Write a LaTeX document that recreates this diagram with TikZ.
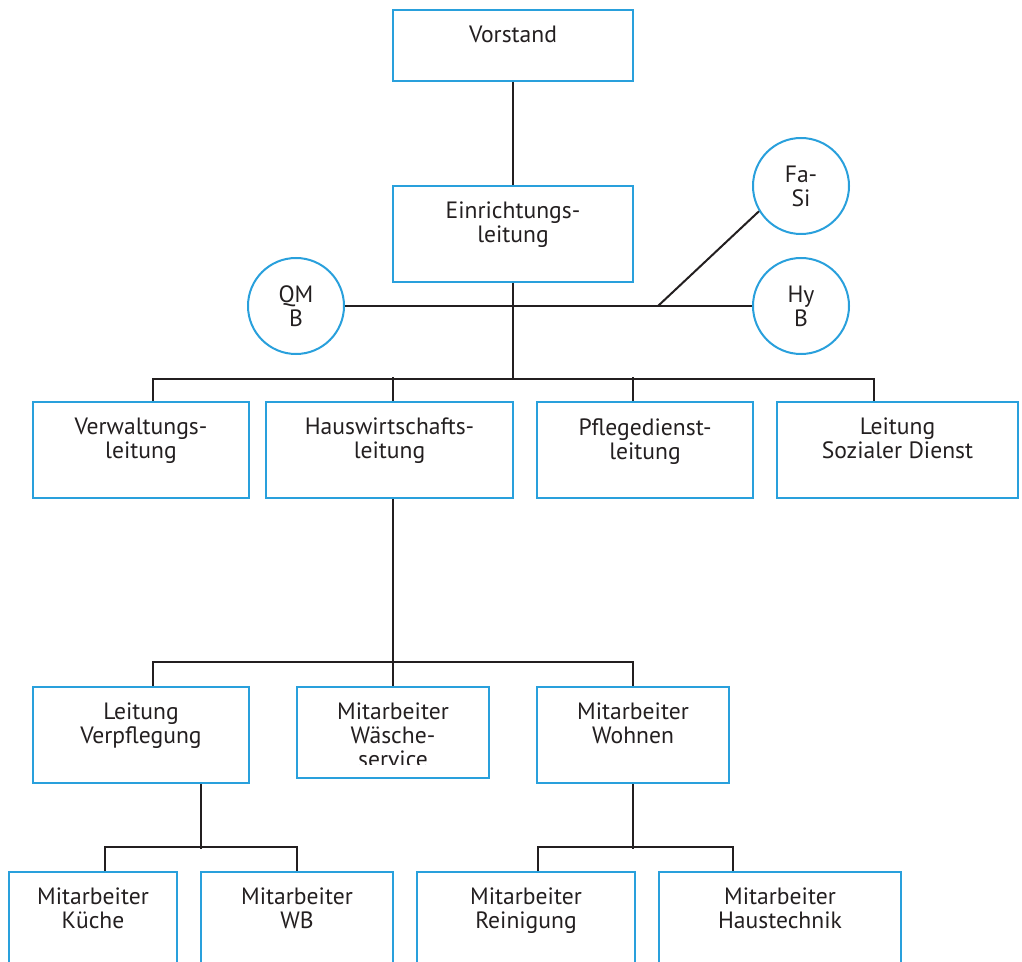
\documentclass[tikz,border=0pt]{standalone}
\usepackage{fontspec}
\setmainfont{PT Sans}
\definecolor{orgblue}{RGB}{41,160,220}
\definecolor{orgtext}{RGB}{35,31,32}
\newcommand{\orgfont}{\fontsize{11.8}{12}\selectfont}
\tikzset{
  box/.style={draw=orgblue, line width=1pt, minimum height=48pt, inner sep=0pt},
  rund/.style={circle, draw=orgblue, line width=1pt, minimum size=48pt, inner sep=0pt,
    align=center, text=orgtext, font=\orgfont},
  beschr/.style={anchor=north, align=center, inner sep=0pt, text=orgtext, font=\orgfont, yshift=-8.4pt},
  verb/.style={line width=1pt, draw=orgtext}
}

\begin{document}
\begin{tikzpicture}[x=0.5pt, y=-0.5pt]
  \useasboundingbox (0,0) rectangle (1022,962);
  \clip (0,0) rectangle (1022,962);
  % Leitungsebene
  \node[box, minimum width=120pt, minimum height=35.5pt] (vorstand) at (513,45.5) {};
  \node[beschr] (vorstand-t) at (vorstand.north) {Vorstand};
  \node[box, minimum width=120pt] (einr) at (513,234) {};
  \node[beschr] (einr-t) at (einr.north) {Einrichtungs-\\leitung};
  \node[rund] (qmb) at (296,306) {QM\\B};
  \node[rund] (fasi) at (801,186) {Fa-\\Si};
  \node[rund] (hyb) at (801,306) {Hy\\B};
  \coordinate (fj) at (658,306);
  % Bereichsleitungen
  \node[box, minimum width=108pt] (verw) at (141,450) {};
  \node[beschr] (verw-t) at (verw.north) {Verwaltungs-\\leitung};
  \node[box, minimum width=123.5pt] (hausw) at (389.5,450) {};
  \node[beschr] (hausw-t) at (hausw.north) {Hauswirtschafts-\\leitung};
  \node[box, minimum width=108pt] (pflege) at (645,450) {};
  \node[beschr] (pflege-t) at (pflege.north) {Pflegedienst-\\leitung};
  \node[box, minimum width=120.5pt] (sozial) at (897.5,450) {};
  \node[beschr] (sozial-t) at (sozial.north) {Leitung\\Sozialer Dienst};
  % Hauswirtschaft
  \node[box, minimum width=108pt] (verpfl) at (141,735) {};
  \node[beschr] (verpfl-t) at (verpfl.north) {Leitung\\Verpflegung};
  \node[box, minimum width=96pt, minimum height=45.5pt] (waesche) at (393,732.5) {};
  \begin{scope}
    \clip (297,687) rectangle (489,764);
    \node[beschr] (waesche-t) at (waesche.north) {Mitarbeiter\\Wäsche-\\service};
  \end{scope}
  \node[box, minimum width=96pt] (wohnen) at (633,735) {};
  \node[beschr] (wohnen-t) at (wohnen.north) {Mitarbeiter\\Wohnen};
  \node[box, minimum width=84pt] (kueche) at (93,920) {};
  \node[beschr] (kueche-t) at (kueche.north) {Mitarbeiter\\Küche};
  \node[box, minimum width=96pt] (wb) at (297,920) {};
  \node[beschr] (wb-t) at (wb.north) {Mitarbeiter\\WB};
  \node[box, minimum width=109pt] (reinig) at (526,920) {};
  \node[beschr] (reinig-t) at (reinig.north) {Mitarbeiter\\Reinigung};
  \node[box, minimum width=121pt] (haustech) at (780,920) {};
  \node[beschr] (haustech-t) at (haustech.north) {Mitarbeiter\\Haustechnik};
  % Verbindungen
  \draw[verb] (vorstand) -- (einr);
  \draw[verb] (qmb) -- (hyb);
  \draw[verb] (fj) -- (fasi.211);
  \draw[verb] (einr.south) -- ++(0,96) coordinate (b1);
  \draw[verb] ([xshift=6pt]verw.north) |- (b1) -| ([xshift=-12pt]sozial.north);
  \draw[verb] ([xshift=1.75pt]hausw.north) -- ++(0,-24);
  \draw[verb] ([xshift=-6pt]pflege.north) -- ++(0,-24);
  \draw[verb] ([xshift=1.75pt]hausw.south) -- (waesche.north);
  \draw[verb] ([xshift=6pt]verpfl.north) -- ++(0,-24) -| (wohnen.north);
  \draw[verb] ([xshift=30pt]verpfl.south) -- ++(0,65);
  \draw[verb] ([xshift=6pt]kueche.north) -- ++(0,-24) -| (wb.north);
  \draw[verb] (wohnen.south) -- ++(0,65);
  \draw[verb] ([xshift=6pt]reinig.north) -- ++(0,-24) -| ([xshift=-23.5pt]haustech.north);
\end{tikzpicture}
\end{document}
